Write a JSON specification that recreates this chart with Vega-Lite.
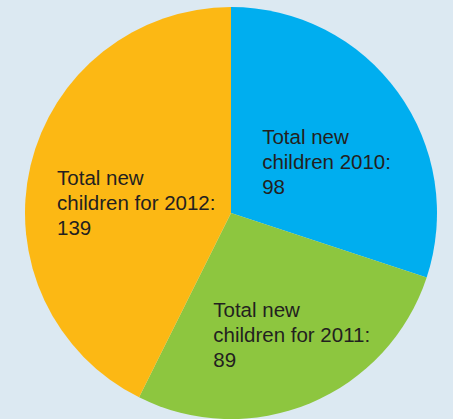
{
  "$schema": "https://vega.github.io/schema/vega-lite/v6.json",
  "width": 444,
  "height": 412,
  "autosize": {"type": "none"},
  "padding": {"left": 9, "top": 7, "right": 0, "bottom": 0},
  "background": "#dce9f2",
  "view": {"stroke": null},
  "data": {
    "values": [
      {"year": "2010", "value": 98, "label": "Total new\nchildren 2010:\n98"},
      {"year": "2011", "value": 89, "label": "Total new\nchildren for 2011:\n89"},
      {"year": "2012", "value": 139, "label": "Total new\nchildren for 2012:\n139"}
    ]
  },
  "encoding": {
    "theta": {"field": "value", "type": "quantitative", "stack": true},
    "order": {"field": "year", "type": "ordinal"}
  },
  "layer": [
    {
      "mark": {"type": "arc", "stroke": null},
      "encoding": {
        "color": {
          "field": "year",
          "type": "nominal",
          "scale": {"domain": ["2010", "2011", "2012"], "range": ["#00aeef", "#8dc63f", "#fcb814"]},
          "legend": null
        }
      }
    },
    {
      "mark": {
        "type": "text",
        "radius": 115,
        "dx": -62,
        "dy": -8,
        "align": "left",
        "baseline": "middle",
        "lineBreak": "\n",
        "lineHeight": 25,
        "font": "Liberation Sans",
        "fontSize": 20.5,
        "color": "#231f20"
      },
      "encoding": {
        "text": {"field": "label", "type": "nominal"}
      }
    }
  ]
}
